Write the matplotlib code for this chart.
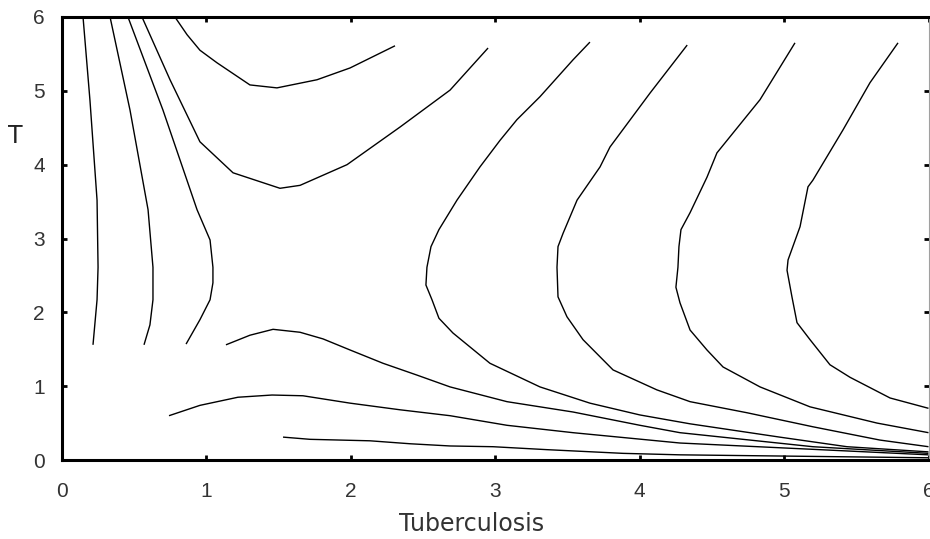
import numpy as np
import matplotlib.pyplot as plt

# phase-plane trajectories, (Tuberculosis, T)
left1_x = [0.149, 0.197, 0.246, 0.253, 0.246, 0.218]
left1_y = [6.00, 4.87, 3.52, 2.61, 2.17, 1.56]

left2_x = [0.336, 0.474, 0.599, 0.633, 0.633, 0.612, 0.571]
left2_y = [6.00, 4.74, 3.39, 2.61, 2.17, 1.83, 1.56]

left3_x = [0.460, 0.702, 0.938, 1.028, 1.048, 1.048, 1.028, 0.958, 0.862]
left3_y = [6.00, 4.74, 3.39, 2.98, 2.61, 2.40, 2.17, 1.90, 1.57]

top1_x = [0.557, 0.751, 0.958, 1.187, 1.512, 1.651, 1.976, 2.343, 2.689, 2.952]
top1_y = [6.00, 5.15, 4.31, 3.89, 3.68, 3.72, 4.00, 4.51, 5.01, 5.58]

top2_x = [0.785, 0.869, 0.958, 1.076, 1.304, 1.491, 1.768, 1.997, 2.308]
top2_y = [6.00, 5.76, 5.55, 5.38, 5.08, 5.04, 5.15, 5.31, 5.61]

right1_x = [3.657, 3.540, 3.311, 3.152, 3.035, 2.896, 2.737, 2.612, 2.557, 2.529,
            2.522, 2.564, 2.612, 2.709, 2.965, 3.311, 3.657, 4.003, 4.350, 4.970,
            5.436, 6.000]
right1_y = [5.66, 5.42, 4.92, 4.61, 4.33, 3.97, 3.52, 3.12, 2.89, 2.61,
            2.37, 2.17, 1.92, 1.72, 1.31, 0.99, 0.77, 0.61, 0.49, 0.31,
            0.18, 0.11]

right2_x = [4.330, 4.073, 3.796, 3.727, 3.568, 3.471, 3.436, 3.429, 3.436, 3.498,
            3.609, 3.817, 4.120, 4.350, 4.744, 5.200, 5.664, 6.000]
right2_y = [5.62, 4.97, 4.24, 3.97, 3.52, 3.07, 2.89, 2.61, 2.21, 1.94,
            1.63, 1.22, 0.95, 0.79, 0.64, 0.45, 0.27, 0.18]

right3_x = [5.076, 4.834, 4.536, 4.467, 4.350, 4.287, 4.273, 4.266, 4.252, 4.280,
            4.350, 4.467, 4.578, 4.834, 5.180, 5.644, 6.000]
right3_y = [5.65, 4.88, 4.16, 3.83, 3.35, 3.12, 2.89, 2.61, 2.34, 2.13,
            1.76, 1.49, 1.26, 0.99, 0.72, 0.50, 0.37]

right4_x = [5.789, 5.595, 5.408, 5.200, 5.166, 5.111, 5.028, 5.021, 5.055, 5.090,
            5.180, 5.318, 5.457, 5.734, 6.000]
right4_y = [5.65, 5.11, 4.47, 3.79, 3.70, 3.16, 2.71, 2.57, 2.21, 1.86,
            1.63, 1.29, 1.12, 0.84, 0.70]

low1_x = [1.138, 1.304, 1.464, 1.651, 1.810, 1.997, 2.225, 2.460, 2.689, 3.083,
          3.540, 4.003, 4.280, 5.200, 6.000]
low1_y = [1.56, 1.69, 1.77, 1.73, 1.64, 1.49, 1.31, 1.15, 0.99, 0.79,
          0.65, 0.47, 0.37, 0.18, 0.09]

low2_x = [0.744, 0.958, 1.221, 1.457, 1.671, 1.997, 2.343, 2.689, 3.083, 3.540,
          4.280, 6.000]
low2_y = [0.60, 0.74, 0.85, 0.88, 0.87, 0.77, 0.68, 0.60, 0.47, 0.37,
          0.23, 0.07]

low3_x = [1.533, 1.720, 2.135, 2.412, 2.689, 2.986, 3.360, 3.886, 4.280, 6.000]
low3_y = [0.31, 0.28, 0.26, 0.22, 0.19, 0.18, 0.14, 0.09, 0.07, 0.03]

curves = [
    (left1_x, left1_y), (left2_x, left2_y), (left3_x, left3_y),
    (top1_x, top1_y), (top2_x, top2_y),
    (right1_x, right1_y), (right2_x, right2_y),
    (right3_x, right3_y), (right4_x, right4_y),
    (low1_x, low1_y), (low2_x, low2_y), (low3_x, low3_y),
]

ticks = [0, 1, 2, 3, 4, 5, 6]

fig = plt.figure(figsize=(9.3, 5.39), dpi=100)
ax = fig.add_axes([61.5 / 930, 79 / 539, 867 / 930, 443 / 539])

for cx, cy in curves:
    ax.plot(cx, cy, color="black", lw=1.0, solid_capstyle="butt")

ax.set_xlim(0, 6)
ax.set_ylim(0, 6)
ax.set_xticks(ticks)
ax.set_yticks(ticks)

for side in ["left", "bottom", "top"]:
    ax.spines[side].set_linewidth(2.2)
    ax.spines[side].set_color("black")
ax.spines["right"].set_linewidth(0.8)
ax.spines["right"].set_color("#a0a0a0")

ax.tick_params(axis="both", direction="in", length=3.5, width=2,
               top=True, right=True, labelsize=15, labelcolor="#333333")
ax.tick_params(axis="x", pad=16)
ax.tick_params(axis="y", pad=12)
for lab in ax.get_xticklabels() + ax.get_yticklabels():
    lab.set_family("Liberation Sans")
    lab.set_stretch("condensed")

fig.text(15 / 930, 1 - 143 / 539, "T", fontsize=17, family="DejaVu Sans",
         color="#222222", ha="center", va="baseline")
fig.text(472 / 930, 1 - 531 / 539, "Tuberculosis", fontsize=17,
         family="DejaVu Sans", color="#333333", ha="center", va="baseline")

fig.savefig("out.png", dpi=100)
